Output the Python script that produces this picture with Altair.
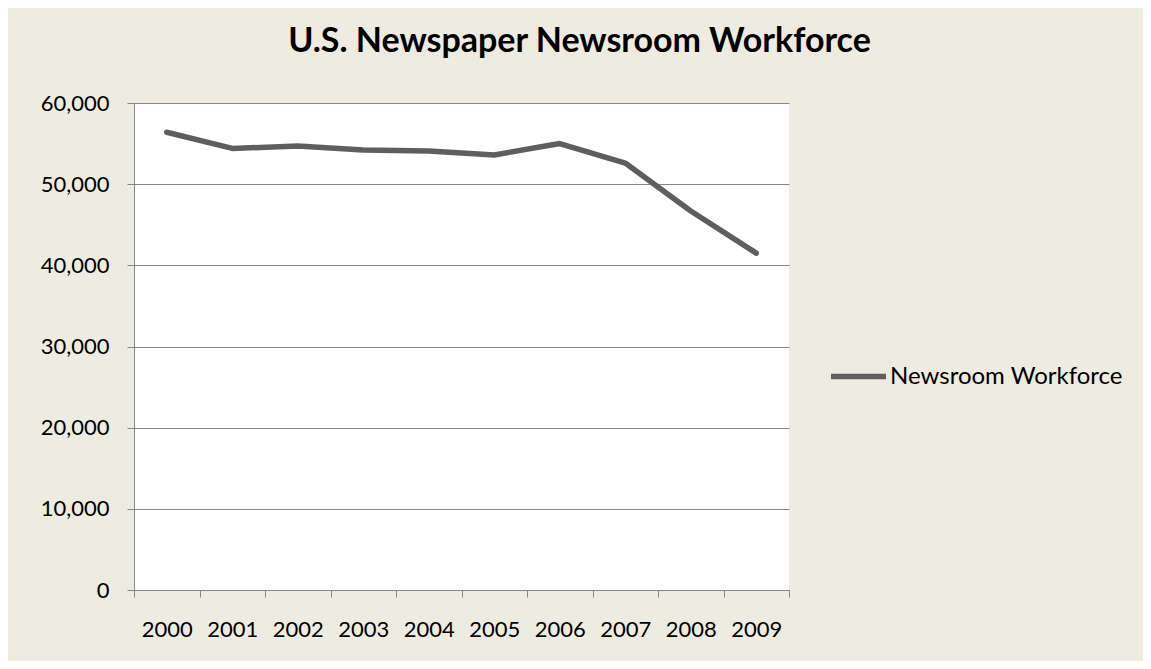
import altair as alt
import pandas as pd

years = ["2000", "2001", "2002", "2003", "2004", "2005", "2006", "2007", "2008", "2009"]
workforce = [56400, 54400, 54700, 54200, 54100, 53600, 55000, 52600, 46700, 41500]
series = ["Newsroom Workforce"] * len(years)

df = pd.DataFrame({"Year": years, "Workforce": workforce, "Series": series})

FONT = "Lato"
GRAY = "#868686"
FS = 22

chart = alt.Chart(df).mark_line(strokeWidth=5.5, strokeJoin="round", strokeCap="round").encode(
    x=alt.X("Year:O", bandPosition=0.5,
            scale=alt.Scale(type="band", paddingInner=0, paddingOuter=0),
            axis=alt.Axis(title=None, labelAngle=0, tickBand="extent", tickSize=7,
                          tickColor=GRAY, domainColor=GRAY, labelPadding=22,
                          labelFontSize=FS, labelFont=FONT, labelColor="#000000", grid=False)),
    y=alt.Y("Workforce:Q", scale=alt.Scale(domain=[0, 60000], nice=False),
            axis=alt.Axis(title=None, values=[0, 10000, 20000, 30000, 40000, 50000, 60000],
                          format=",.0f", tickSize=7, tickColor=GRAY, domainColor=GRAY,
                          gridColor=GRAY, gridWidth=1, labelPadding=18,
                          labelFontSize=FS, labelFont=FONT, labelColor="#000000")),
    color=alt.Color("Series:N", scale=alt.Scale(range=["#5E5E5E"]),
                    legend=alt.Legend(title=None, orient="none", legendX=694, legendY=243,
                                      symbolType="stroke", symbolSize=3025, symbolStrokeWidth=5.5,
                                      labelFontSize=24, labelFont=FONT, labelColor="#000000",
                                      labelOffset=1, labelLimit=400)),
).properties(
    width=655,
    height=487,
    autosize=alt.AutoSizeParams(type="none"),
    padding={"left": 126, "top": 95, "right": 354, "bottom": 71},
    title=alt.TitleParams("U.S. Newspaper Newsroom Workforce", fontSize=34, font=FONT,
                          fontWeight="bold", color="#000000", anchor="middle", dx=118, offset=33),
).configure(
    background="#EEECE1"
).configure_view(
    fill="#FFFFFF", stroke=None
)

chart.save("out.html", embed_options={"renderer": "svg", "actions": False})
